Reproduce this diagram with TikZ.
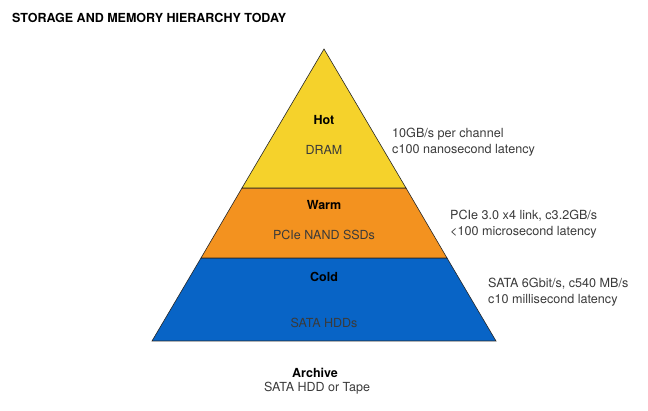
\documentclass[tikz,border=0pt]{standalone}
\usepackage{fontspec}
\setmainfont{TeX Gyre Heros}
\usetikzlibrary{positioning}
\definecolor{hotyellow}{HTML}{F5D22B}
\definecolor{warmorange}{HTML}{F3921F}
\definecolor{coldblue}{HTML}{0864C6}
\definecolor{labelgray}{HTML}{3A3A3A}

\begin{document}
\begin{tikzpicture}[x=1pt,y=-1pt,
  tier/.style={draw=black!85,line width=0.6pt,line join=miter},
  tiername/.style={font=\fontsize{12.5}{14}\selectfont\bfseries,text=black,inner sep=0pt},
  tech/.style={font=\fontsize{12.5}{14}\selectfont,text=labelgray,inner sep=0pt},
  spec/.style={font=\fontsize{12.6}{16}\selectfont,text=labelgray,align=left,anchor=west,inner sep=0pt}
]
\useasboundingbox (0,0) rectangle (648,411);
% title
\node[font=\fontsize{12.5}{14}\selectfont\bfseries,anchor=west,inner sep=0pt] (title) at (12,18) {STORAGE AND MEMORY HIERARCHY TODAY};
% pyramid corners
\coordinate (apex) at (324,49);
\coordinate (hotl) at (242,188);  \coordinate (hotr) at (406,188);
\coordinate (warml) at (201,258); \coordinate (warmr) at (447,258);
\coordinate (coldl) at (152,341); \coordinate (coldr) at (496,341);
% tiers
\draw[tier,fill=coldblue] (warml) -- (warmr) -- (coldr) -- (coldl) -- cycle;
\draw[tier,fill=warmorange] (hotl) -- (hotr) -- (warmr) -- (warml) -- cycle;
\draw[tier,fill=hotyellow] (apex) -- (hotr) -- (hotl) -- cycle;
% hot
\node[tiername] (hot) at (324,120) {Hot};
\node[tech] (dram) at (324,150) {DRAM};
\node[spec] (hotspec) at (392,142.5) {10GB/s per channel\\c100 nanosecond latency};
% warm
\node[tiername] (warm) at (324,205) {Warm};
\node[tech] (ssd) at (324,235) {PCIe NAND SSDs};
\node[spec] (warmspec) at (450,224.5) {PCIe 3.0 x4 link, c3.2GB/s\\<100 microsecond latency};
% cold
\node[tiername] (cold) at (324,277) {Cold};
\node[tech] (hdd) at (324,323) {SATA HDDs};
\node[spec] (coldspec) at (488,292.5) {SATA 6Gbit/s, c540 MB/s\\c10 millisecond latency};
% archive
\node[tiername] (archive) at (315,373) {Archive};
\node[tech] (tape) at (317,388) {SATA HDD or Tape};
\end{tikzpicture}
\end{document}
